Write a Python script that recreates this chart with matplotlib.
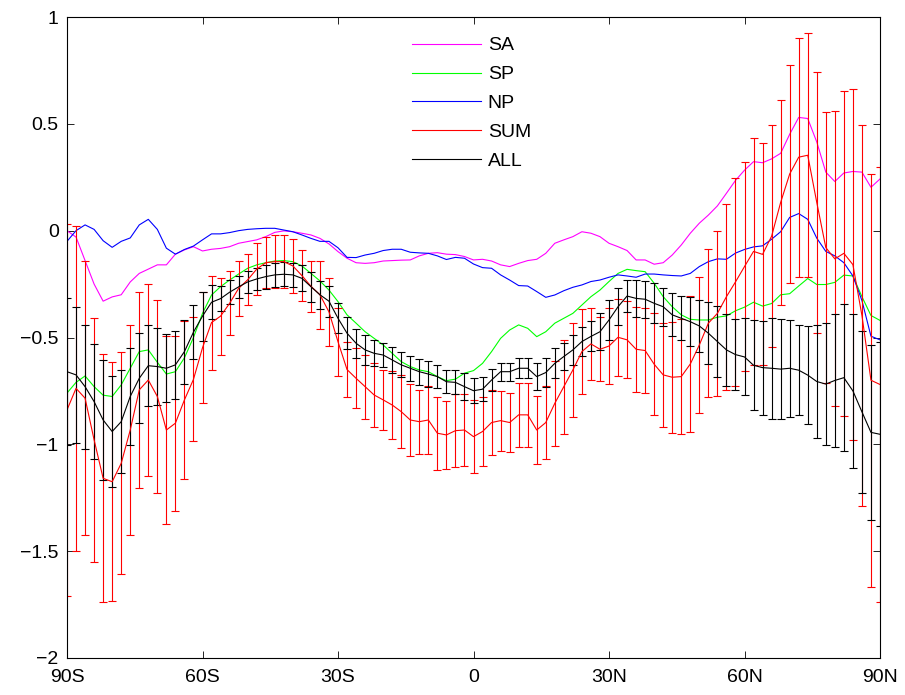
import matplotlib
matplotlib.use("Agg")
import matplotlib.pyplot as plt
from matplotlib.lines import Line2D
import numpy as np

plt.rcParams['font.family'] = ['Liberation Sans', 'DejaVu Sans']

lat = np.arange(-90, 91, 2)

sa = [-0.00, -0.03, -0.14, -0.25, -0.33, -0.31, -0.30, -0.24, -0.20, -0.18,
      -0.16, -0.16, -0.11, -0.09, -0.075, -0.095, -0.087, -0.083, -0.075, -0.059,
      -0.051, -0.043, -0.028, -0.008, -0.001, -0.005, -0.012, -0.02, -0.036, -0.062,
      -0.098, -0.129, -0.15, -0.153, -0.15, -0.142, -0.14, -0.138, -0.137, -0.118,
      -0.106, -0.103, -0.11, -0.112, -0.121, -0.137, -0.134, -0.142, -0.16, -0.168,
      -0.153, -0.14, -0.134, -0.106, -0.059, -0.043, -0.028, -0.005, -0.012, -0.028,
      -0.059, -0.075, -0.093, -0.137, -0.137, -0.157, -0.15, -0.114, -0.067, -0.012,
      0.035, 0.073, 0.116, 0.175, 0.235, 0.283, 0.323, 0.318, 0.336, 0.362,
      0.451, 0.530, 0.525, 0.415, 0.274, 0.230, 0.270, 0.277, 0.274, 0.203,
      0.242]

sp = [-0.76, -0.71, -0.68, -0.73, -0.77, -0.776, -0.722, -0.644, -0.566, -0.558,
      -0.616, -0.671, -0.66, -0.595, -0.50, -0.387, -0.301, -0.262, -0.231, -0.203,
      -0.176, -0.16, -0.15, -0.142, -0.14, -0.145, -0.165, -0.2, -0.235, -0.278,
      -0.332, -0.394, -0.433, -0.473, -0.504, -0.535, -0.574, -0.613, -0.636, -0.652,
      -0.66, -0.683, -0.702, -0.695, -0.667, -0.655, -0.621, -0.566, -0.504, -0.465,
      -0.441, -0.457, -0.496, -0.473, -0.433, -0.41, -0.387, -0.348, -0.309, -0.278,
      -0.238, -0.2, -0.181, -0.187, -0.192, -0.246, -0.309, -0.356, -0.394, -0.415,
      -0.418, -0.418, -0.405, -0.399, -0.375, -0.358, -0.335, -0.353, -0.341, -0.3,
      -0.295, -0.259, -0.224, -0.252, -0.252, -0.242, -0.208, -0.212, -0.309, -0.397,
      -0.42]

np_ = [-0.05, 0.0, 0.027, 0.006, -0.047, -0.078, -0.05, -0.034, 0.027, 0.053,
       0.006, -0.082, -0.11, -0.088, -0.072, -0.043, -0.015, -0.015, -0.009, 0.0,
       0.006, 0.009, 0.011, 0.011, 0.003, -0.005, -0.02, -0.036, -0.05, -0.05,
       -0.08, -0.125, -0.126, -0.114, -0.106, -0.093, -0.087, -0.087, -0.101, -0.104,
       -0.106, -0.118, -0.135, -0.125, -0.129, -0.156, -0.173, -0.176, -0.207, -0.231,
       -0.257, -0.259, -0.285, -0.312, -0.301, -0.281, -0.265, -0.254, -0.238, -0.231,
       -0.218, -0.207, -0.212, -0.218, -0.203, -0.203, -0.207, -0.21, -0.212, -0.2,
       -0.168, -0.145, -0.132, -0.134, -0.105, -0.088, -0.076, -0.071, -0.04, -0.005,
       0.062, 0.08, 0.053, -0.035, -0.097, -0.118, -0.15, -0.212, -0.327, -0.494,
       -0.511]

sm = [-0.839, -0.738, -0.784, -0.979, -1.159, -1.175, -1.089, -0.933, -0.745, -0.699,
      -0.776, -0.933, -0.901, -0.792, -0.696, -0.548, -0.43, -0.40, -0.34, -0.27,
      -0.23, -0.18, -0.15, -0.145, -0.145, -0.165, -0.21, -0.26, -0.30, -0.38,
      -0.52, -0.65, -0.691, -0.73, -0.769, -0.792, -0.816, -0.847, -0.886, -0.894,
      -0.886, -0.948, -0.956, -0.936, -0.933, -0.964, -0.94, -0.898, -0.889, -0.898,
      -0.862, -0.862, -0.933, -0.898, -0.808, -0.73, -0.652, -0.566, -0.53, -0.555,
      -0.54, -0.499, -0.511, -0.555, -0.561, -0.625, -0.675, -0.686, -0.683, -0.624,
      -0.535, -0.433, -0.387, -0.309, -0.24, -0.168, -0.097, -0.111, -0.026, 0.132,
      0.265, 0.344, 0.353, 0.132, -0.079, -0.132, -0.106, -0.159, -0.397, -0.70,
      -0.72]

sm_err = [0.87, 0.76, 0.64, 0.57, 0.58, 0.56, 0.52, 0.49, 0.46, 0.45,
          0.45, 0.44, 0.41, 0.37, 0.29, 0.26, 0.22, 0.18, 0.15, 0.13,
          0.12, 0.12, 0.12, 0.125, 0.125, 0.125, 0.12, 0.12, 0.16, 0.16,
          0.16, 0.13, 0.14, 0.15, 0.15, 0.14, 0.16, 0.17, 0.17, 0.15,
          0.16, 0.17, 0.16, 0.17, 0.17, 0.17, 0.16, 0.15, 0.14, 0.14,
          0.15, 0.15, 0.16, 0.17, 0.2, 0.22, 0.22, 0.2, 0.17, 0.15,
          0.178, 0.18, 0.18, 0.2, 0.2, 0.24, 0.244, 0.26, 0.27, 0.316,
          0.32, 0.347, 0.385, 0.435, 0.486, 0.49, 0.53, 0.52, 0.52, 0.48,
          0.51, 0.56, 0.57, 0.61, 0.635, 0.69, 0.76, 0.82, 0.89, 0.966,
          1.02]

al = [-0.66, -0.675, -0.73, -0.80, -0.886, -0.94, -0.894, -0.776, -0.691, -0.632,
      -0.636, -0.644, -0.628, -0.566, -0.475, -0.40, -0.335, -0.318, -0.288, -0.263,
      -0.24, -0.226, -0.215, -0.207, -0.204, -0.207, -0.223, -0.262, -0.30, -0.33,
      -0.41, -0.48, -0.527, -0.558, -0.574, -0.582, -0.605, -0.628, -0.644, -0.66,
      -0.671, -0.683, -0.707, -0.71, -0.73, -0.749, -0.742, -0.699, -0.66, -0.66,
      -0.644, -0.644, -0.683, -0.664, -0.621, -0.589, -0.558, -0.519, -0.495, -0.473,
      -0.418, -0.356, -0.306, -0.317, -0.321, -0.34, -0.356, -0.394, -0.41, -0.426,
      -0.446, -0.48, -0.519, -0.558, -0.58, -0.591, -0.63, -0.641, -0.644, -0.648,
      -0.644, -0.653, -0.676, -0.706, -0.718, -0.701, -0.688, -0.75, -0.848, -0.944,
      -0.953]

al_err = [0.345, 0.32, 0.29, 0.27, 0.28, 0.26, 0.24, 0.225, 0.21, 0.19,
          0.18, 0.16, 0.16, 0.15, 0.125, 0.115, 0.08, 0.06, 0.055, 0.05,
          0.05, 0.05, 0.056, 0.056, 0.056, 0.056, 0.06, 0.07, 0.065, 0.072,
          0.07, 0.076, 0.069, 0.069, 0.06, 0.058, 0.062, 0.058, 0.058, 0.061,
          0.062, 0.055, 0.055, 0.056, 0.062, 0.058, 0.055, 0.051, 0.042, 0.042,
          0.047, 0.047, 0.064, 0.066, 0.07, 0.062, 0.07, 0.066, 0.07, 0.087,
          0.094, 0.087, 0.075, 0.086, 0.087, 0.094, 0.089, 0.1, 0.103, 0.114,
          0.122, 0.144, 0.168, 0.167, 0.168, 0.18, 0.21, 0.22, 0.237, 0.235,
          0.227, 0.21, 0.23, 0.265, 0.287, 0.313, 0.345, 0.36, 0.38, 0.41,
          0.43]

names = ['SA', 'SP', 'NP', 'SUM', 'ALL']
colors = ['#ff00ff', '#00ff00', '#0000ff', '#ff0000', 'black']

xticks = [-90, -60, -30, 0, 30, 60, 90]
xlabels = ['90S', '60S', '30S', '0', '30N', '60N', '90N']
yticks = [-2, -1.5, -1, -0.5, 0, 0.5, 1]
ylabels = ['\u22122', '\u22121.5', '\u22121', '\u22120.5', '0', '0.5', '1']

fig = plt.figure(figsize=(9.05, 6.95), dpi=100)
ax = fig.add_axes([67/905, 37/695, 813/905, 641/695])

lw = 0.8
ax.plot(lat, sa, color=colors[0], lw=lw)
ax.plot(lat, sp, color=colors[1], lw=lw)
ax.plot(lat, np_, color=colors[2], lw=lw)
ax.errorbar(lat, sm, yerr=sm_err, color=colors[3], lw=lw, elinewidth=lw,
            capsize=3, capthick=lw)
ax.errorbar(lat, al, yerr=al_err, color=colors[4], lw=lw, elinewidth=lw,
            capsize=3, capthick=lw)

ax.set_xlim(-90, 90)
ax.set_ylim(-2, 1)
ax.set_xticks(xticks)
ax.set_xticklabels(xlabels)
ax.set_yticks(yticks)
ax.set_yticklabels(ylabels)
ax.tick_params(direction='in', length=5, width=0.6, top=True, right=True,
               labelsize=14)
ax.tick_params(axis='x', pad=8)
ax.tick_params(axis='y', pad=6)
for s in ax.spines.values():
    s.set_linewidth(0.8)

# legend without frame, plain line handles
handles = [Line2D([], [], color=c, lw=lw) for c in colors]
ax.legend(handles, names, loc='upper left', bbox_to_anchor=(0.424, 0.969),
          frameon=False, fontsize=14, handlelength=3.55, handletextpad=0.36,
          labelspacing=0.58, borderpad=0, borderaxespad=0)

fig.savefig('out.png', dpi=100)
